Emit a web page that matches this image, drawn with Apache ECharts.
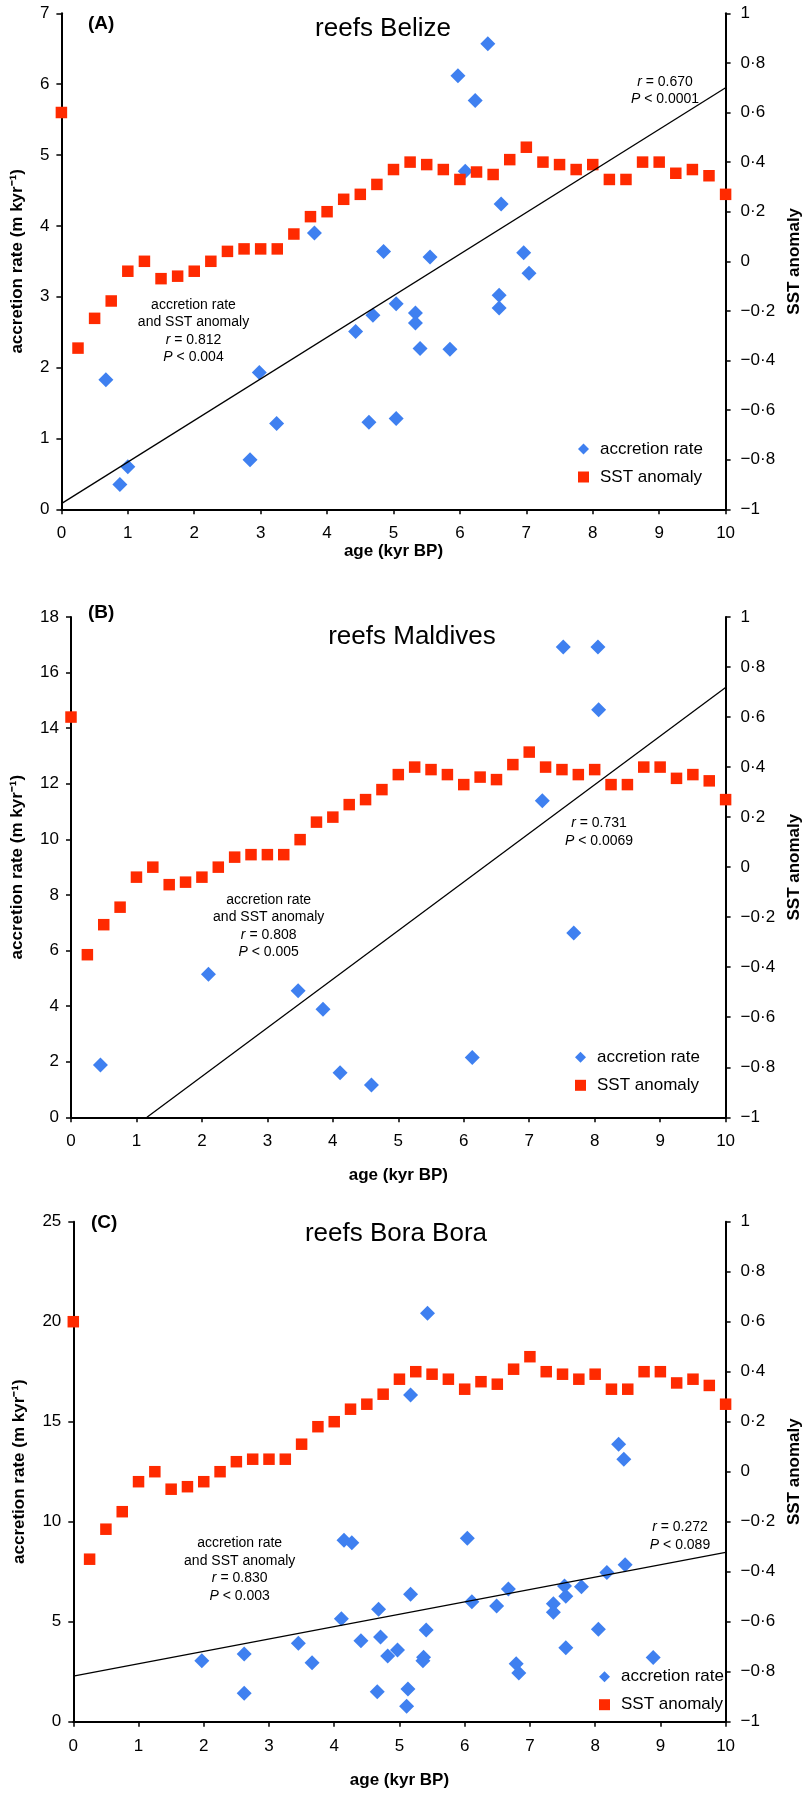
<!DOCTYPE html>
<html>
<head>
<meta charset="utf-8">
<script src="https://cdn.jsdelivr.net/npm/echarts@6/dist/echarts.min.js"></script>
<style>
html,body{margin:0;padding:0;background:#fff;}
#chart{width:811px;height:1796px;}
</style>
</head>
<body>
<div id="chart"></div>
<script>
// ---------- DATA ----------
const xTicks = [0,1,2,3,4,5,6,7,8,9,10];

// SST anomaly (same record in all three panels)
const ageSST = [0,0.25,0.5,0.75,1,1.25,1.5,1.75,2,2.25,2.5,2.75,3,3.25,3.5,3.75,4,4.25,4.5,4.75,5,5.25,5.5,5.75,6,6.25,6.5,6.75,7,7.25,7.5,7.75,8,8.25,8.5,8.75,9,9.25,9.5,9.75,10];
const sstAnomaly = [0.60,-0.35,-0.23,-0.16,-0.04,0.00,-0.07,-0.06,-0.04,0.00,0.04,0.05,0.05,0.05,0.11,0.18,0.20,0.25,0.27,0.31,0.37,0.40,0.39,0.37,0.33,0.36,0.35,0.41,0.46,0.40,0.39,0.37,0.39,0.33,0.33,0.40,0.40,0.355,0.37,0.345,0.27];

// (A) Belize
const ageBelize  = [0.67,0.88,1.00,2.84,2.98,3.24,3.81,4.43,4.63,4.69,4.85,5.04,5.04,5.33,5.33,5.40,5.55,5.85,5.97,6.08,6.23,6.42,6.59,6.59,6.62,6.96,7.04];
const rateBelize = [1.83,0.35,0.60,0.70,1.93,1.21,3.90,2.51,1.23,2.74,3.64,2.90,1.28,2.77,2.63,2.27,3.56,2.26,6.12,4.77,5.77,6.57,3.02,2.84,4.31,3.62,3.33];
const fitBelize  = [[0,0.08],[10,5.95]];

// (B) Maldives
const ageMaldives  = [0.45,2.10,3.47,3.85,4.11,4.59,6.13,7.20,7.52,7.68,8.05,8.06];
const rateMaldives = [1.88,5.15,4.55,3.89,1.60,1.16,2.15,11.39,16.92,6.63,16.92,14.66];
const fitMaldives  = [[1.16,0],[10,15.46]];

// (C) Bora Bora
const ageBora  = [1.97,2.62,2.62,3.45,3.66,4.11,4.15,4.27,4.41,4.66,4.68,4.71,4.82,4.97,5.11,5.13,5.17,5.17,5.36,5.37,5.41,5.43,6.04,6.11,6.49,6.67,6.79,6.83,7.36,7.36,7.53,7.55,7.55,7.79,8.05,8.18,8.36,8.44,8.46,8.89];
const rateBora = [3.05,3.38,1.42,3.92,2.95,5.15,9.07,8.95,4.05,1.50,5.62,4.23,3.28,3.58,0.77,1.64,6.37,16.33,3.05,3.22,4.58,20.42,9.17,6.00,5.79,6.64,2.90,2.43,5.90,5.47,6.78,6.27,3.70,6.75,4.62,7.46,13.87,13.12,7.85,3.21];
const fitBora  = [[0,2.28],[10,8.47]];

const titles = ['reefs Belize','reefs Maldives','reefs Bora Bora'];
const panelTags = ['(A)','(B)','(C)'];
const leftMax = [7,18,25];
const leftInterval = [1,2,5];
const corrSST = [['r = 0.812','P < 0.004'],['r = 0.808','P < 0.005'],['r = 0.830','P < 0.003']];
const corrFit = [['r = 0.670','P < 0.0001'],['r = 0.731','P < 0.0069'],['r = 0.272','P < 0.089']];

// ---------- LAYOUT ----------
const FONT = "'Liberation Sans', Arial, sans-serif";
const BLUE = '#3f80f0';
const RED = '#ff2a00';
const grids = [
  {left:61.4, top:13.3, width:671.8, height:496},
  {left:71, top:617, width:662, height:500.3},
  {left:73.3, top:1221.7, width:661, height:500}
];
const xNameGap = [30, 50, 50];
const leftNameGap = [36, 45.5, 45.5];
const rightNameGap = 58;
const legendPos = [{left:578, top:440.5},{left:575, top:1048.8},{left:599, top:1668.2}];
const titlePos = [[383,29],[412,636.5],[396,1233.5]];
const tagPos = [[88,23.3],[88,613],[91,1222.5]];
const sstTextPos = [[193.5,305],[268.7,900],[239.7,1543.3]];
const fitTextPos = [[665,81.7],[599,823.3],[680,1527.3]];
const lineStep = 17.5;

function fmtSST(v){
  const r = Math.round(v*10)/10;
  if (Math.abs(r) < 1e-9) return '0';
  let s = Math.abs(r).toFixed(1);
  if (s.endsWith('.0')) s = s.slice(0,-2);
  s = s.replace('.', '\u00B7');
  return (r < 0 ? '\u2212' : '') + s;
}

const axisLineStyle = {show:true, onZero:false, lineStyle:{color:'#000', width:2}};
const axisTickStyle = {show:true, inside:false, length:5, lineStyle:{color:'#000', width:1.5}};
const labelStyle = {color:'#000', fontSize:17, fontFamily:FONT};
const nameStyle = {color:'#000', fontSize:17, fontWeight:'bold', fontFamily:FONT};

const accAges = [ageBelize, ageMaldives, ageBora];
const accRates = [rateBelize, rateMaldives, rateBora];
const fits = [fitBelize, fitMaldives, fitBora];

const xAxis = [], yAxis = [], series = [], legend = [], graphic = [];

for (let i = 0; i < 3; i++) {
  xAxis.push({
    gridIndex:i, type:'value', min:xTicks[0], max:xTicks[xTicks.length-1], interval:1,
    axisLine:axisLineStyle, axisTick:axisTickStyle, splitLine:{show:false},
    axisLabel:Object.assign({margin:16}, labelStyle),
    name:'age (kyr BP)', nameLocation:'middle', nameGap:xNameGap[i], nameTextStyle:nameStyle
  });
  yAxis.push({
    gridIndex:i, type:'value', position:'left', min:0, max:leftMax[i], interval:leftInterval[i],
    axisLine:axisLineStyle, axisTick:axisTickStyle, splitLine:{show:false},
    axisLabel:Object.assign({margin:12}, labelStyle),
    name:'accretion rate (m kyr\u207B\u00B9)', nameLocation:'middle', nameRotate:90,
    nameGap:leftNameGap[i], nameTextStyle:nameStyle
  });
  yAxis.push({
    gridIndex:i, type:'value', position:'right', min:-1, max:1, interval:0.2,
    axisLine:axisLineStyle, axisTick:axisTickStyle, splitLine:{show:false},
    axisLabel:Object.assign({margin:15, formatter:fmtSST}, labelStyle),
    name:'SST anomaly', nameLocation:'middle', nameRotate:90,
    nameGap:rightNameGap, nameTextStyle:nameStyle
  });

  series.push({
    name:'accretion rate', type:'scatter', xAxisIndex:i, yAxisIndex:2*i,
    symbol:'diamond', symbolSize:[15,15], itemStyle:{color:BLUE, opacity:1}, z:2,
    data:accAges[i].map((a,k)=>[a, accRates[i][k]])
  });
  series.push({
    name:'SST anomaly', type:'scatter', xAxisIndex:i, yAxisIndex:2*i+1,
    symbol:'rect', symbolSize:11.5, itemStyle:{color:RED, opacity:1}, z:3,
    data:ageSST.map((a,k)=>[a, sstAnomaly[k]])
  });
  series.push({
    name:'fit', type:'line', xAxisIndex:i, yAxisIndex:2*i,
    symbol:'none', lineStyle:{color:'#000', width:1.3}, z:4, silent:true,
    data:fits[i]
  });

  legend.push({
    orient:'vertical', left:legendPos[i].left, top:legendPos[i].top, padding:0,
    itemWidth:11, itemHeight:11, itemGap:11, selectedMode:false,
    data:[{name:'accretion rate', icon:'diamond'},{name:'SST anomaly', icon:'rect'}],
    textStyle:{color:'#000', fontSize:17, fontFamily:FONT, padding:[0,0,0,6]}
  });

  graphic.push({type:'text', x:titlePos[i][0], y:titlePos[i][1],
    style:{text:titles[i], font:'26px '+FONT, fill:'#000', textAlign:'center', textVerticalAlign:'middle'}});
  graphic.push({type:'text', x:tagPos[i][0], y:tagPos[i][1],
    style:{text:panelTags[i], font:'bold 19px '+FONT, fill:'#000', textAlign:'left', textVerticalAlign:'middle'}});

  const sstLines = ['accretion rate','and SST anomaly', corrSST[i][0], corrSST[i][1]];
  sstLines.forEach((t,k)=>{
    graphic.push({type:'text', x:sstTextPos[i][0], y:sstTextPos[i][1] + k*lineStep,
      style:{text: k===2 ? '{i|r}' + t.slice(1) : (k===3 ? '{i|P}' + t.slice(1) : t),
        font:'14px '+FONT, fill:'#000', textAlign:'center', textVerticalAlign:'middle',
        rich:{i:{fontStyle:'italic', fontSize:14, fontFamily:FONT}}}});
  });
  corrFit[i].forEach((t,k)=>{
    graphic.push({type:'text', x:fitTextPos[i][0], y:fitTextPos[i][1] + k*lineStep,
      style:{text:'{i|' + t[0] + '}' + t.slice(1),
        font:'14px '+FONT, fill:'#000', textAlign:'center', textVerticalAlign:'middle',
        rich:{i:{fontStyle:'italic', fontSize:14, fontFamily:FONT}}}});
  });
}

const chart = echarts.init(document.getElementById('chart'), null, {renderer:'canvas'});
chart.setOption({
  animation:false,
  backgroundColor:'#fff',
  textStyle:{fontFamily:FONT},
  grid:grids.map(g=>Object.assign({containLabel:false}, g)),
  xAxis, yAxis, series, legend, graphic
});
</script>
</body>
</html>
